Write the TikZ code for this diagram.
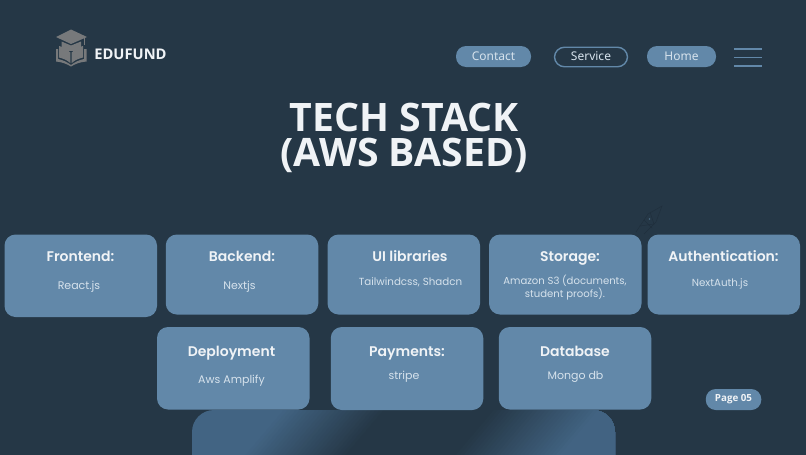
\documentclass[tikz,border=0pt]{standalone}
\usepackage{fontspec}
\setmainfont{Open Sans}
\newfontfamily\pops{Poppins}
\newfontfamily\popb{Poppins SemiBold}
\newfontfamily\nav{Noto Sans}
\newfontfamily\head{Open Sans}
\definecolor{bg}{HTML}{253746}
\definecolor{card}{HTML}{6288A9}
\definecolor{deep}{HTML}{426483}
\definecolor{ttl}{HTML}{F0F3F6}
\definecolor{bod}{HTML}{D6E2EC}
\definecolor{logo}{HTML}{77797B}
\definecolor{faint}{HTML}{202F3D}
\tikzset{
 cardbox/.style={fill=card,rounded corners=11pt,inner sep=0pt,draw=none},
 cardtitle/.style={font=\popb\fontsize{14}{18}\selectfont,text=ttl,inner sep=0pt,anchor=base},
 cardbody/.style={font=\pops\fontsize{11}{14.5}\selectfont,text=bod,inner sep=0pt,align=center,anchor=base},
 pill/.style={rounded corners=10pt,inner sep=0pt,minimum height=21pt,font=\nav\fontsize{12}{14}\selectfont,text=bod},
 pillfill/.style={pill,fill=card},
 pillline/.style={pill,draw=card,line width=1.4pt,minimum height=19.5pt},
 burger/.style={draw=card,line width=1.3pt},
 faintline/.style={draw=faint,line width=0.5pt},
 titleline/.style={font=\head\bfseries\fontsize{39.2}{36}\selectfont,text=ttl,inner sep=0pt,anchor=base},
}
\newcommand{\cardat}[5]{%
 \node[cardbox,minimum width=#3pt,minimum height=#4pt] (#5) at (#1,#2) {};}
\newcommand{\bandstrip}[2]{%
 \fill[#2] (#1+4,405) -- (800,405) -- (800,460) -- (#1-42.5,460) -- cycle;}
\begin{document}
\begin{tikzpicture}[x=1pt,y=-1pt]
\useasboundingbox (0,0) rectangle (806,455);
\fill[bg] (0,0) rectangle (806,455);

% bottom gradient panel
\begin{scope}
\clip[rounded corners=22pt] (192,500) -- (192,410) -- (615,410) -- (615,500) -- cycle;
\fill[deep] (150,400) rectangle (660,470);
\foreach \s in {280,284,...,384} {
 \pgfmathsetmacro{\p}{(\s-280)/104*100}
 \bandstrip{\s}{bg!\p!deep}
}
\foreach \s in {490,494,...,600} {
 \pgfmathsetmacro{\p}{(\s-490)/110*100}
 \bandstrip{\s}{deep!\p!bg}
}
\end{scope}

% logo
\fill[logo] (71,29.5) -- (87,37) -- (71,44) -- (56,37) -- cycle;
\fill[logo] (61.5,41.5) -- (71,45.5) -- (81,41.5) -- (81,48) .. controls (76,52) and (66,52) .. (61.5,48) -- cycle;
\draw[logo,line width=0.8pt] (84,38) -- (84,45);
\fill[logo] (59,46) .. controls (63,47) and (67,49) .. (70.3,52.5) -- (70.3,63) .. controls (67,60) and (63,58.5) .. (59,57.5) -- cycle;
\fill[logo] (83,46) .. controls (79,47) and (75,49) .. (71.7,52.5) -- (71.7,63) .. controls (75,60) and (79,58.5) .. (83,57.5) -- cycle;
\fill[logo] (56,49) -- (58,49) -- (58,59) .. controls (63,60) and (67,62) .. (71,65) .. controls (75,62) and (79,60) .. (84,59) -- (84,49) -- (86.5,49) -- (86.5,61.5) .. controls (80,62) and (75,64) .. (71,66.5) .. controls (67,64) and (62,62) .. (56,61.5) -- cycle;
\node[font=\head\bfseries\fontsize{14.7}{16}\selectfont,text=ttl,inner sep=0pt] (brand) at (130.5,54) {EDUFUND};

% nav
\node[pillfill,minimum width=75pt] (contact) at (493.5,56.5) {\raisebox{-1pt}{Contact}};
\node[pillline,minimum width=73pt] (service) at (591,57) {\raisebox{1pt}{Service}};
\node[pillfill,minimum width=69pt] (home) at (681.5,56.5) {\raisebox{-1pt}{Home}};
\draw[burger] (734,49) -- (762,49);
\draw[burger] (734,57.8) -- (762,57.8);
\draw[burger] (734,66) -- (762,66);

% title
\node[titleline] (title1) at (404,131) {TECH STACK};
\node[titleline] (title2) at (404,166) {(AWS BASED)};

% faint sketch
\draw[faintline] (636,232) -- (648,214) -- (662,206) -- (656,222) -- (644,234);
\draw[faintline] (640,226) -- (654,224) -- (650,212);
\draw[faintline] (644,220) -- (652,228);
\fill[card!60!bg] (649.5,219) circle (0.8pt);

% cards
\cardat{80.75}{275.75}{152.5}{82.5}{fe}
\cardat{242}{274.5}{152.5}{80}{be}
\cardat{403.75}{274.5}{152.5}{80}{ui}
\cardat{565.25}{274.5}{152.5}{80}{st}
\cardat{723.75}{274.5}{152.5}{80}{au}
\cardat{233.25}{368.25}{152.5}{82.5}{de}
\cardat{407}{368.5}{152.5}{83}{pa}
\cardat{575}{368.25}{152.5}{82.5}{db}

\node[cardtitle] (t1) at (80.5,261) {Frontend:};
\node[cardbody] (b1) at (79,289) {React.js};
\node[cardtitle] (t2) at (242,261) {Backend:};
\node[cardbody] (b2) at (239.5,289) {Nextjs};
\node[cardtitle] (t3) at (410,261) {UI libraries};
\node[cardbody,font=\pops\fontsize{10.3}{14}\selectfont] (b3) at (410.5,285) {Tailwindcss, Shadcn};
\node[cardtitle] (t4) at (570,261) {Storage:};
\node[cardbody,font=\pops\fontsize{10.1}{13.5}\selectfont,anchor=center] (b4) at (565,287.5) {Amazon S3 (documents,\\student proofs).};
\node[cardtitle] (t5) at (723.5,261) {Authentication:};
\node[cardbody,font=\pops\fontsize{10.3}{14}\selectfont] (b5) at (720,286) {NextAuth.js};
\node[cardtitle] (t6) at (231.5,356) {Deployment};
\node[cardbody] (b6) at (231.5,383) {Aws Amplify};
\node[cardtitle] (t7) at (407,356) {Payments:};
\node[cardbody] (b7) at (404,379.5) {stripe};
\node[cardtitle] (t8) at (575,356) {Database};
\node[cardbody] (b8) at (575.5,379) {Mongo db};

% page badge
\node[pillfill,minimum width=55.5pt,font=\head\bfseries\fontsize{9.8}{12}\selectfont,text=ttl] (page) at (733.5,399.5) {Page 05};
\end{tikzpicture}
\end{document}
